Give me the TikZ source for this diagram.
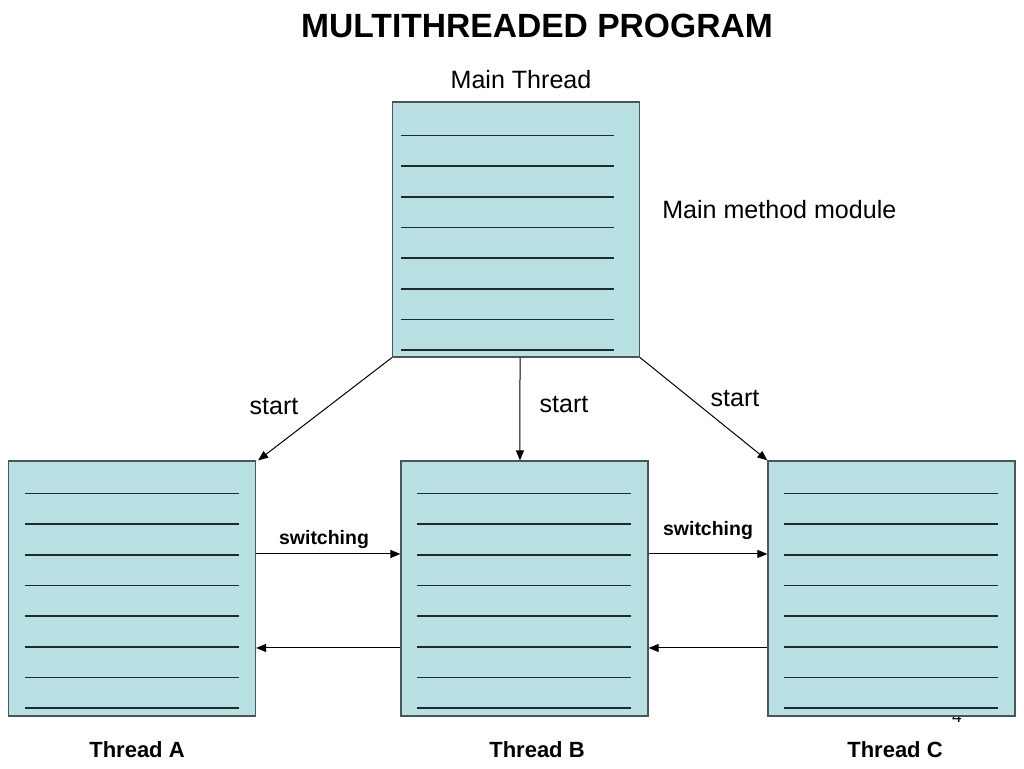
\documentclass[tikz,border=0pt]{standalone}
\usepackage{fontspec}
\setmainfont{Liberation Sans}
\usetikzlibrary{arrows.meta,calc}
\definecolor{boxfill}{HTML}{B9E0E2}
\definecolor{boxedge}{HTML}{4A5558}
\definecolor{ruleline}{HTML}{1E2A2E}
\tikzset{
  threadbox/.style={draw=boxedge,line width=0.9pt,fill=boxfill,minimum width=185.25pt,minimum height=191.25pt,inner sep=0pt},
  conn/.style={draw=black,line width=0.75pt,-{Triangle[length=7.5pt,width=6pt]}},
  rl/.style={draw=ruleline,line width=1.3pt},
  lbl/.style={inner sep=0pt,font=\fontsize{18.8pt}{22pt}\selectfont},
  swl/.style={inner sep=0pt,font=\fontsize{14.6pt}{17pt}\selectfont\bfseries},
  thl/.style={inner sep=0pt,font=\fontsize{16.5pt}{19pt}\selectfont\bfseries}
}
\begin{document}
\begin{tikzpicture}[x=0.75pt,y=-0.75pt]
\useasboundingbox[fill=white] (0,0) rectangle (1024,768);
\node[inner sep=0pt,font=\fontsize{25.2pt}{30pt}\selectfont\bfseries] (title) at (537,26) {MULTITHREADED PROGRAM};
\node[lbl] (mtl) at (521,80) {Main Thread};
\node[lbl,anchor=west] (mml) at (662,210) {Main method module};
\node[inner sep=0pt,font=\fontsize{13pt}{15pt}\selectfont] (pg) at (957,717) {4};

\node[threadbox] (M) at (516,229.5) {};
\node[threadbox] (A) at (132,588.5) {};
\node[threadbox] (B) at (524.5,588.5) {};
\node[threadbox] (C) at (891.5,588.5) {};

\foreach \k in {0,...,7}{
  \draw[rl] ($(M.north west)+(9,34+\k*30.7)$) -- ++(213,0);
  \draw[rl] ($(A.north west)+(17,33+\k*30.7)$) -- ++(214,0);
  \draw[rl] ($(B.north west)+(17,33+\k*30.7)$) -- ++(214,0);
  \draw[rl] ($(C.north west)+(17,33+\k*30.7)$) -- ++(214,0);
}

\draw[conn] (M.south west) -- ([xshift=1.5pt]A.north east);
\draw[conn] ([xshift=3pt]M.south) -- ([xshift=-3.4pt]B.north);
\draw[conn] (M.south east) -- (C.north west);

\draw[conn] ([yshift=25.9pt]A.east) -- ([yshift=25.9pt]B.west);
\draw[conn] ([yshift=25.9pt]B.east) -- ([yshift=25.9pt]C.west);
\draw[conn] ([yshift=-44.6pt]B.west) -- ([yshift=-44.6pt]A.east);
\draw[conn] ([yshift=-44.6pt]C.west) -- ([yshift=-44.6pt]B.east);

\node[lbl] (s1) at (274,407) {start};
\node[lbl] (s2) at (564,405) {start};
\node[lbl] (s3) at (735,399) {start};
\node[swl] (sw1) at (324,539) {switching};
\node[swl] (sw2) at (708,530) {switching};

\node[thl] (ta) at (137,750) {Thread A};
\node[thl] (tb) at (537,750) {Thread B};
\node[thl] (tc) at (895,750) {Thread C};
\end{tikzpicture}
\end{document}
